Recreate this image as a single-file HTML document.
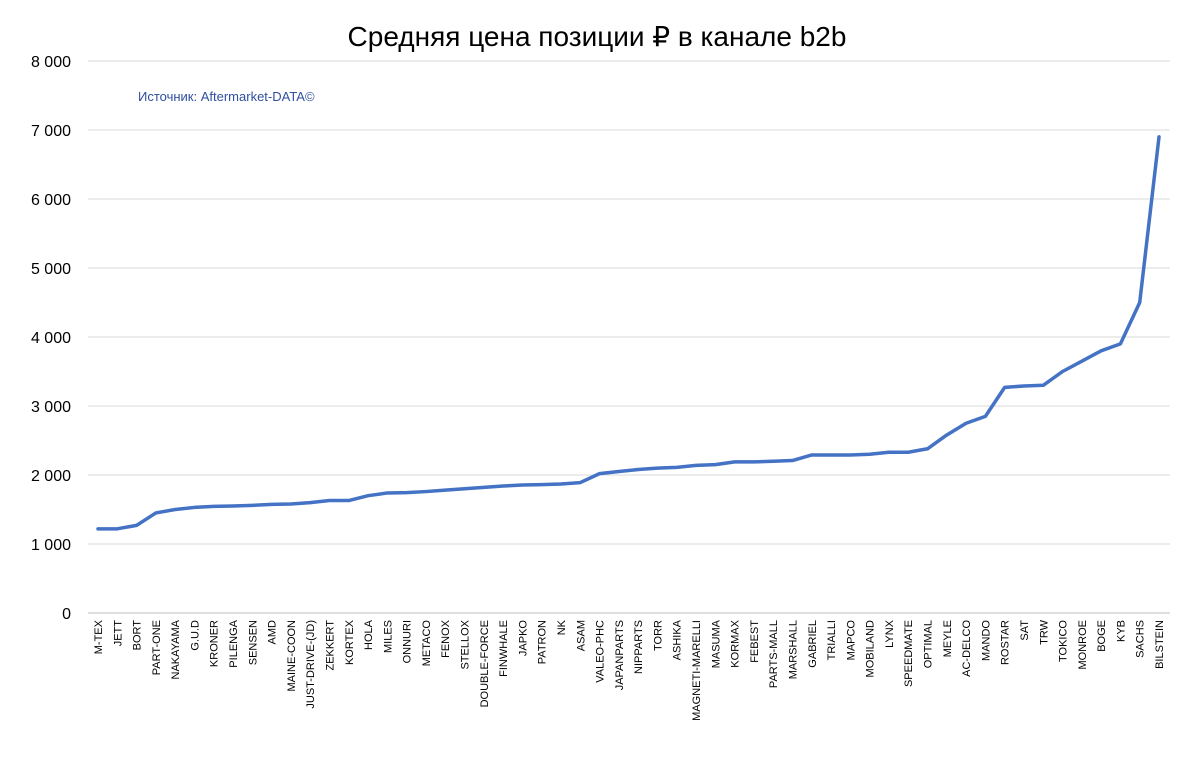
<!DOCTYPE html>
<html><head><meta charset="utf-8"><style>
body{margin:0;background:#fff;}
svg text{font-family:"Liberation Sans","DejaVu Sans",sans-serif;}
</style></head><body>
<svg id="chart" width="1200" height="763" viewBox="0 0 1200 763" xmlns="http://www.w3.org/2000/svg">
<text x="597" y="46" text-anchor="middle" font-size="28" fill="#000">Средняя цена позиции ₽ в канале b2b</text>
<text x="138" y="101" font-size="13" fill="#2f4f9f">Источник: Aftermarket-DATA©</text>
<g id="grid"></g><g id="yticks"></g><g id="xticks"></g><g id="series"></g>
</svg>
<script>
const categories=["M-TEX","JETT","BORT","PART-ONE","NAKAYAMA","G.U.D","KRONER","PILENGA","SENSEN","AMD","MAINE-COON","JUST-DRIVE-(JD)","ZEKKERT","KORTEX","HOLA","MILES","ONNURI","METACO","FENOX","STELLOX","DOUBLE-FORCE","FINWHALE","JAPKO","PATRON","NK","ASAM","VALEO-PHC","JAPANPARTS","NIPPARTS","TORR","ASHIKA","MAGNETI-MARELLI","MASUMA","KORMAX","FEBEST","PARTS-MALL","MARSHALL","GABRIEL","TRIALLI","MAPCO","MOBILAND","LYNX","SPEEDMATE","OPTIMAL","MEYLE","AC-DELCO","MANDO","ROSTAR","SAT","TRW","TOKICO","MONROE","BOGE","KYB","SACHS","BILSTEIN"];
const values=[1220,1220,1270,1450,1500,1530,1545,1550,1560,1575,1580,1600,1630,1630,1700,1740,1745,1760,1780,1800,1820,1840,1855,1860,1870,1890,2020,2050,2080,2100,2110,2140,2150,2190,2190,2200,2210,2290,2290,2290,2300,2330,2330,2380,2580,2750,2850,3270,3290,3300,3500,3650,3800,3900,4500,6900];
const yTicks=[0,1000,2000,3000,4000,5000,6000,7000,8000];
const yTickLabels=["0","1 000","2 000","3 000","4 000","5 000","6 000","7 000","8 000"];
const NS="http://www.w3.org/2000/svg";
const x0=98,x1=1159,yBase=613,yTop=61,yMax=8000;
const xs=i=>x0+(x1-x0)*i/(categories.length-1);
const ys=v=>yBase-(yBase-yTop)*v/yMax;
function mk(t,a){const e=document.createElementNS(NS,t);for(const k in a)e.setAttribute(k,a[k]);return e;}
const grid=document.getElementById('grid'),yt=document.getElementById('yticks'),xt=document.getElementById('xticks'),ser=document.getElementById('series');
yTicks.forEach((v,i)=>{
  const l=mk('line',{x1:88,x2:1170,y1:ys(v),y2:ys(v),stroke:v===0?'#bfbfbf':'#d9d9d9','stroke-width':1});
  
  
  grid.appendChild(l);
  const t=mk('text',{x:71,y:ys(v)+6,'text-anchor':'end','font-size':16,fill:'#000'});
  
  
  t.textContent=yTickLabels[i];yt.appendChild(t);
});
categories.forEach((c,i)=>{
  const x=xs(i);
  const t=mk('text',{x:0,y:0,'text-anchor':'end','font-size':11,fill:'#000',transform:`translate(${x+4},620) rotate(-90)`});
  
  
  t.textContent=c;xt.appendChild(t);
});
const p=mk('polyline',{points:values.map((v,i)=>xs(i)+','+ys(v)).join(' '),fill:'none',stroke:'#4472c4','stroke-width':3.5,'stroke-linejoin':'round','stroke-linecap':'round'});


ser.appendChild(p);
</script>
</body></html>
